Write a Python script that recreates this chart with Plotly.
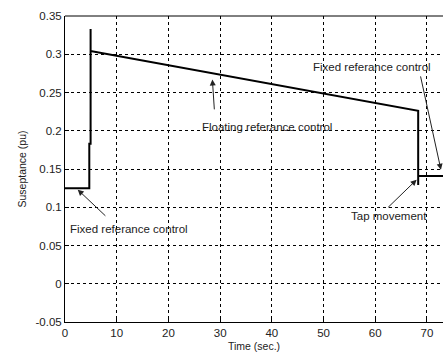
import plotly.graph_objects as go

# Data
time_s = [0, 4.7, 4.7, 4.95, 4.95, 4.95, 5.2, 30.0, 68.3, 68.3, 68.3, 73.5]
susceptance = [0.125, 0.125, 0.183, 0.183, 0.333, 0.304, 0.304, 0.273, 0.226, 0.129, 0.141, 0.141]

x_ticks = [0, 10, 20, 30, 40, 50, 60, 70]
y_ticks = [-0.05, 0, 0.05, 0.1, 0.15, 0.2, 0.25, 0.3, 0.35]
y_tick_text = ["-0.05", "0", "0.05", "0.1", "0.15", "0.2", "0.25", "0.3", "0.35"]

FONT = "Liberation Sans, Arial, sans-serif"

fig = go.Figure()
fig.add_trace(go.Scatter(x=time_s, y=susceptance, mode="lines",
                         line=dict(color="black", width=2), showlegend=False))

axis_common = dict(showgrid=True, gridcolor="black", griddash="3px,3px", gridwidth=1,
                   zeroline=False, showline=True, linecolor="black", linewidth=1,
                   ticks="inside", ticklen=4, tickcolor="black",
                   tickfont=dict(family=FONT, size=11.5, color="#222"))

fig.update_xaxes(range=[0, 73.1], tickvals=x_ticks, mirror=False,
                 title=dict(text="Time (sec.)", font=dict(family=FONT, size=10.5, color="#222"), standoff=4),
                 **axis_common)
fig.update_yaxes(range=[-0.05, 0.35], tickvals=y_ticks, ticktext=y_tick_text, mirror=False,
                 title=dict(text="Suseptance (pu)", font=dict(family=FONT, size=10.5, color="#222"), standoff=6),
                 **axis_common)

# top border
fig.add_shape(type="line", xref="paper", yref="paper", x0=0, x1=1, y0=1, y1=1,
              line=dict(color="black", width=1))

ann_font = dict(family=FONT, size=11.5, color="#222")
annots = [
    # text, text x, text y, tail x, tail y, tip x, tip y, anchor
    ("Fixed referance control", 0.6, 0.071, 8.1, 0.087, 2.46, 0.123, "left"),
    ("Floating referance control", 26.2, 0.205, 28.9, 0.226, 28.5, 0.267, "left"),
    ("Fixed referance control", 47.5, 0.283, 68.7, 0.273, 72.7, 0.149, "left"),
    ("Tap movement", 55.0, 0.088, 62.2, 0.098, 68.0, 0.136, "left"),
]
for txt, tx, ty, ax, ay, hx, hy, anc in annots:
    fig.add_annotation(x=tx, y=ty, text=txt, showarrow=False, xanchor=anc, yanchor="middle",
                       font=ann_font)
    fig.add_annotation(x=hx, y=hy, ax=ax, ay=ay, axref="x", ayref="y", text="",
                       showarrow=True, arrowhead=2, arrowsize=1.2, arrowwidth=1,
                       arrowcolor="#222")

fig.update_layout(width=443, height=358, margin=dict(l=65, r=0, t=16, b=36),
                  plot_bgcolor="white", paper_bgcolor="white")

fig.write_html("out.html")
